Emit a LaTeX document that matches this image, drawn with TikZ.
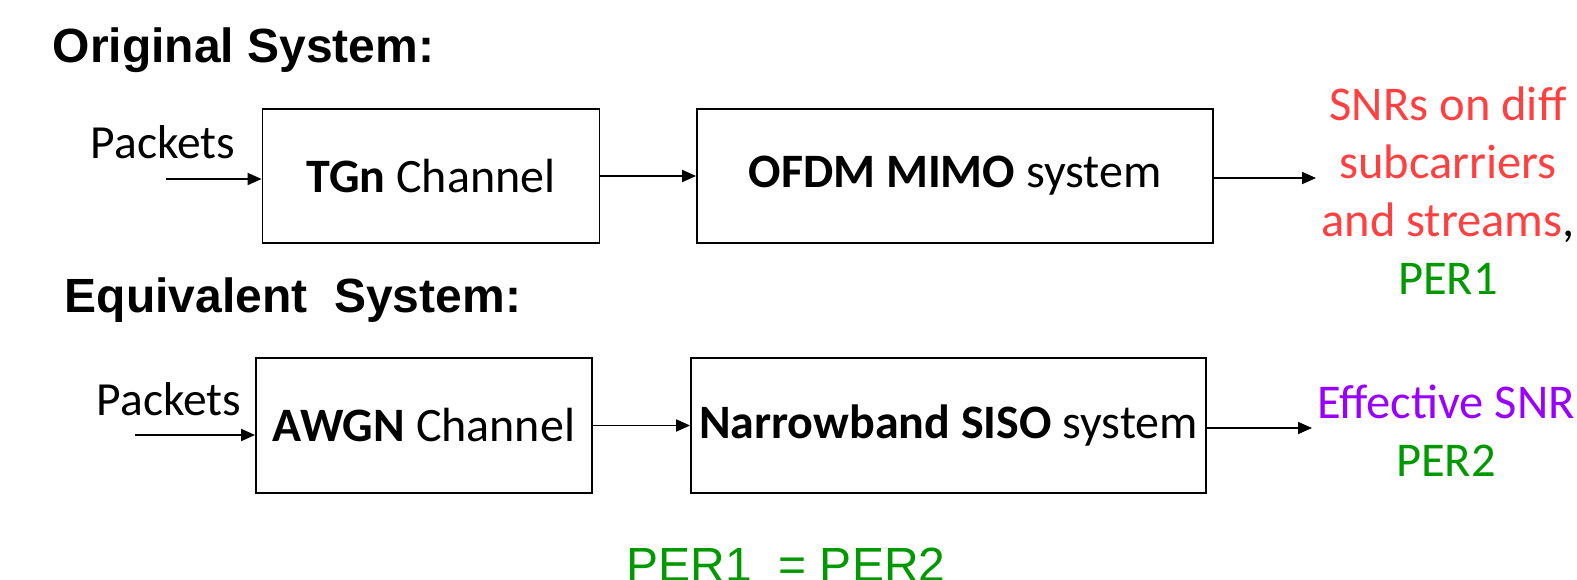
\documentclass[tikz,border=0pt]{standalone}
\usepackage{fontspec}
\setmainfont{Carlito}
\newfontfamily\headfont{Liberation Sans}
\usetikzlibrary{arrows.meta,positioning}
\definecolor{snrred}{RGB}{255,64,64}
\definecolor{pergreen}{RGB}{0,153,0}
\definecolor{effpurple}{RGB}{153,0,255}

\begin{document}
\begin{tikzpicture}[x=1pt, y=-1pt, >={Triangle[length=14pt,width=12pt]}, line width=1.8pt]
\tikzstyle{blockbox} = [draw, rectangle, minimum height=134pt, text centered, inner sep=0pt, font=\fontsize{48}{58}\selectfont]
\tikzstyle{heading} = [anchor=base west, inner sep=0pt, font=\headfont\bfseries\fontsize{48}{58}\selectfont]
\tikzstyle{plain} = [anchor=base, inner sep=0pt, font=\fontsize{47.5}{58}\selectfont]
\tikzstyle{outtext} = [anchor=north, align=center, inner sep=0pt, font=\fontsize{48.5}{58}\selectfont]

\useasboundingbox (0,0) rectangle (1577,580);

% original system
\node[heading] (orig) at (52,63) {Original System:};
\node[plain] (pk1) at (163,159) {Packets};
\node[blockbox, minimum width=337pt] (tgn) at (431,176) {\textbf{TGn} Channel};
\node[blockbox, minimum width=516pt] (ofdm) at (955,176) {\textbf{OFDM MIMO} system};
\node[outtext] (snr) at (1448,86) {\textcolor{snrred}{SNRs on diff}\\ \textcolor{snrred}{subcarriers}\\ \textcolor{snrred}{and streams},\\ \textcolor{pergreen}{PER1}};

\coordinate (pin1) at (166,179);
\coordinate (pout1) at (1316,178);
\draw[->] (pin1) -- (pin1 -| tgn.west);
\draw[->] (tgn) -- (ofdm);
\draw[->] (ofdm.east |- pout1) -- (pout1);

% equivalent system
\node[heading] (equiv) at (64,312) {Equivalent\ \ System:};
\node[plain] (pk2) at (169,415) {Packets};
\node[blockbox, minimum width=336pt, minimum height=135pt] (awgn) at (424,425.5) {\textbf{AWGN} Channel};
\node[blockbox, minimum width=515pt, minimum height=135pt] (siso) at (948.5,425.5) {\textbf{Narrowband SISO} system};
\node[outtext] (eff) at (1446,384) {\textcolor{effpurple}{Effective SNR}\\ \textcolor{pergreen}{PER2}};

\coordinate (pin2) at (135,435);
\coordinate (pout2) at (1312,428);
\draw[->] (pin2) -- (pin2 -| awgn.west);
\draw[->] (awgn) -- (siso);
\draw[->] (siso.east |- pout2) -- (pout2);

\node[plain, font=\headfont\fontsize{48}{58}\selectfont, text=pergreen] (peq) at (786,581) {PER1\ \ = PER2};
\end{tikzpicture}
\end{document}
